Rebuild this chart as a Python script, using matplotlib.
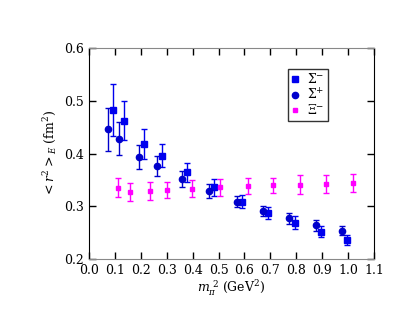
import matplotlib.pyplot as plt
from matplotlib.lines import Line2D

plt.rcParams['font.family'] = 'DejaVu Serif'
plt.rcParams['mathtext.fontset'] = 'dejavuserif'

# Sigma- (squares)
sm_x = [0.093, 0.136, 0.214, 0.283, 0.378, 0.484, 0.592, 0.691, 0.794, 0.896, 0.997]
sm_y = [0.483, 0.462, 0.418, 0.396, 0.365, 0.336, 0.309, 0.287, 0.269, 0.252, 0.236]
sm_e = [0.049, 0.037, 0.028, 0.022, 0.018, 0.016, 0.013, 0.011, 0.012, 0.010, 0.009]

# Sigma+ (circles)
sp_x = [0.072, 0.117, 0.194, 0.263, 0.358, 0.465, 0.571, 0.670, 0.773, 0.875, 0.978]
sp_y = [0.446, 0.428, 0.394, 0.377, 0.352, 0.329, 0.309, 0.291, 0.277, 0.264, 0.254]
sp_e = [0.041, 0.031, 0.023, 0.019, 0.015, 0.013, 0.010, 0.010, 0.011, 0.010, 0.008]

# Xi- (small magenta squares)
xi_x = [0.112, 0.157, 0.234, 0.302, 0.399, 0.507, 0.612, 0.711, 0.813, 0.916, 1.018]
xi_y = [0.335, 0.327, 0.329, 0.331, 0.333, 0.336, 0.338, 0.340, 0.341, 0.342, 0.344]
xi_e = [0.018, 0.017, 0.017, 0.016, 0.016, 0.016, 0.015, 0.014, 0.018, 0.017, 0.017]

fig = plt.figure(figsize=(4.15, 3.21), dpi=100)
ax = fig.add_axes([0.2145, 0.193, 0.6865, 0.657])

c_sm, c_sp, c_xi = '#0000ee', '#0000cc', '#ff00ff'
ax.errorbar(sm_x, sm_y, yerr=sm_e, fmt='s', color=c_sm, ms=4.5,
            elinewidth=1.0, capsize=2.5, capthick=1.0)
ax.errorbar(sp_x, sp_y, yerr=sp_e, fmt='o', color=c_sp, ms=4.5,
            elinewidth=1.0, capsize=2.5, capthick=1.0)
ax.errorbar(xi_x, xi_y, yerr=xi_e, fmt='s', color=c_xi, ms=2.5,
            elinewidth=1.0, capsize=2.5, capthick=1.0)

ax.set_xlim(0.0, 1.1)
ax.set_ylim(0.2, 0.6)
ax.set_xticks([i / 10 for i in range(12)])
ax.set_xticklabels(['%.1f' % (i / 10) for i in range(12)])
ax.set_yticks([0.2, 0.3, 0.4, 0.5, 0.6])
ax.set_yticklabels(['0.2', '0.3', '0.4', '0.5', '0.6'])
ax.tick_params(direction='in', length=5, width=1, colors='black',
               labelsize=9, top=True, right=True)
for s in ['top', 'bottom']:
    ax.spines[s].set_color('#888888')
ax.spines['left'].set_color('black')
ax.spines['right'].set_color('black')

ax.set_xlabel(r'$m_{\pi}^{\ 2}$ (GeV$^2$)', fontsize=9, labelpad=1)
ax.set_ylabel(r'$<r^2>_E$ (fm$^2$)', fontsize=9, labelpad=4)

handles = [
    Line2D([], [], ls='none', marker='s', color=c_sm, ms=4.5),
    Line2D([], [], ls='none', marker='o', color=c_sp, ms=4.5),
    Line2D([], [], ls='none', marker='s', color=c_xi, ms=2.5),
]
labels = [r'$\Sigma^{-}$', r'$\Sigma^{+}$', r'$\Xi^{-}$']
leg = ax.legend(handles, labels, loc='upper left', bbox_to_anchor=(0.676, 0.932),
                fontsize=9, handlelength=0.6, handletextpad=0.6, borderpad=0.3,
                labelspacing=0.05, fancybox=False, frameon=True)
leg.get_frame().set_edgecolor('black')
leg.get_frame().set_linewidth(1.0)

fig.savefig('out.png', dpi=100)
